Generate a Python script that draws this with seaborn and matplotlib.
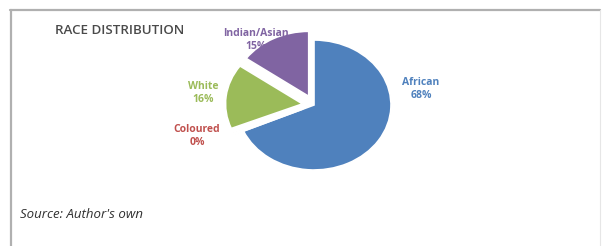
import matplotlib
matplotlib.use("Agg")
import matplotlib.pyplot as plt
import seaborn as sns
from matplotlib.lines import Line2D

sns.set_theme(style="white")
plt.rcParams['font.family'] = ['Open Sans', 'DejaVu Sans']

# Data
categories = ["African", "Coloured", "White", "Indian/Asian"]
values = [68.0, 0.4, 16.0, 15.0]
colors = ["#4F81BD", "#C0504D", "#9BBB59", "#8064A2"]
explode = [0.0, 0.15, 0.15, 0.15]
title = "RACE DISTRIBUTION"
source = "Source: Author's own"

W, H = 602, 246
fig = plt.figure(figsize=(W / 100, H / 100), dpi=100)
fig.patch.set_facecolor("white")

def px(x, y):
    return x / W, 1 - y / H

# frame lines
fig.add_artist(Line2D([10 / W, 600 / W], [1 - 9.5 / H, 1 - 9.5 / H], color="#b0b0b0", lw=1.6))
fig.add_artist(Line2D([10.5 / W, 10.5 / W], [0, 1 - 9.5 / H], color="#b0b0b0", lw=1.6))
fig.add_artist(Line2D([600 / W, 600 / W], [0, 1 - 9.5 / H], color="#e6e6e6", lw=0.8))

# pie axes
cx, cy, rx, ry = 314, 105, 77, 65
ax = fig.add_axes([(cx - 1.5 * rx) / W, (H - cy - 1.5 * ry) / H, 3 * rx / W, 3 * ry / H])
total = sum(values)
wedges, _ = ax.pie(values, colors=colors, explode=explode, startangle=90,
                   counterclock=False, wedgeprops=dict(edgecolor="white", linewidth=1.2))
ax.set_aspect("auto")
ax.set_xlim(-1.5, 1.5)
ax.set_ylim(-1.5, 1.5)
ax.axis("off")

# labels
label_pos = {"African": (421, 89), "Coloured": (197, 136), "White": (203, 93), "Indian/Asian": (256, 40)}
for cat, val, col in zip(categories, values, colors):
    pct = round(val / total * 100)
    x, y = label_pos[cat]
    fx, fy = px(x, y)
    fig.text(fx, fy, f"{cat}\n{pct}%", color=col, fontsize=7.5, fontweight="bold",
             ha="center", va="center", linespacing=1.15)

fx, fy = px(55, 30)
fig.text(fx, fy, title, fontsize=9.6, color="#4a4a4a", fontweight="semibold", ha="left", va="center")
fx, fy = px(20, 215)
fig.text(fx, fy, source, fontsize=9.5, color="#303030", style="italic", ha="left", va="center")

fig.savefig("out.png", dpi=100, facecolor="white")
